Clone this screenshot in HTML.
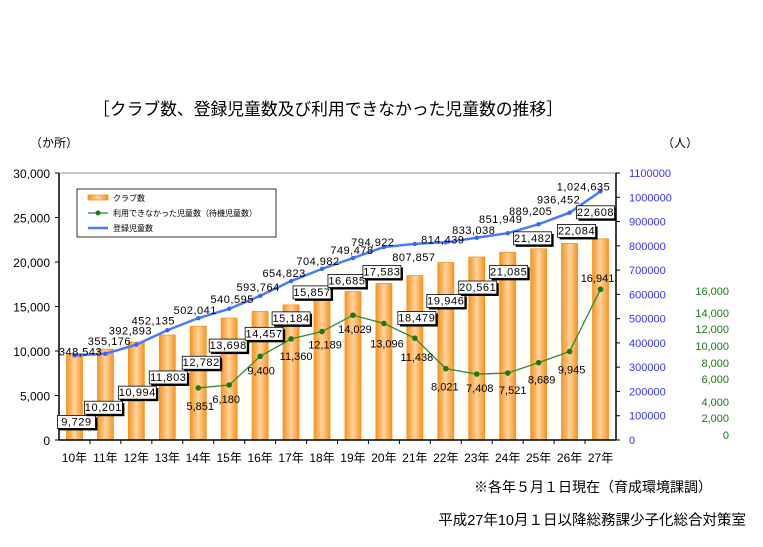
<!DOCTYPE html>
<html><head><meta charset="utf-8"><style>
body{margin:0;background:#fff;}
svg text{font-family:"Liberation Sans","Noto Sans CJK JP",sans-serif;}
</style></head><body>
<svg width="763" height="542" viewBox="0 0 763 542" xmlns="http://www.w3.org/2000/svg">
<defs>
<linearGradient id="barg" x1="0" x2="1" y1="0" y2="0">
<stop offset="0" stop-color="#f7941d"/><stop offset="0.5" stop-color="#ffd3a0"/><stop offset="1" stop-color="#f7941d"/>
</linearGradient>
</defs>
<text x="93" y="115" font-size="16.8" fill="#000">［クラブ数、登録児童数及び利用できなかった児童数の推移］</text>
<text x="30" y="147" font-size="12">（か所）</text>
<text x="662" y="147" font-size="12">（人）</text>
<g id="plot"></g>
<text x="712" y="492" font-size="14" text-anchor="end">※各年５月１日現在（育成環境課調）</text>
<text x="746" y="525" font-size="14.5" text-anchor="end">平成27年10月１日以降総務課少子化総合対策室</text>
</svg>
<script>
const categories=["10年","11年","12年","13年","14年","15年","16年","17年","18年","19年","20年","21年","22年","23年","24年","25年","26年","27年"];
const clubs=[9729,10201,10994,11803,12782,13698,14457,15184,15857,16685,17583,18479,19946,20561,21085,21482,22084,22608];
const registered=[348543,355176,392893,452135,502041,540595,593764,654823,704982,749478,794922,807857,814439,833038,851949,889205,936452,1024635];
const waiting=[null,null,null,null,5851,6180,9400,11360,12189,14029,13096,11438,8021,7408,7521,8689,9945,16941];
const leftTicks=[0,5000,10000,15000,20000,25000,30000];
const blueTicks=[0,100000,200000,300000,400000,500000,600000,700000,800000,900000,1000000,1100000];
const greenTickLabels=["16,000","14,000","12,000","10,000","8,000","6,000","4,000","2,000","0"];
// label offset styles (pixels)
const clubDx=[2,-2,1,1,3,-1,4,0,-10,-6,-2,2,0,1,1,-6,7,-5];
const clubDy=[68,58,50,42,36,27,22,13,-7,-11,-12,42,38,30,19,-11,-13,-27];
const regDx=[6,4,-6,-14,-3,3,-2,-7,-4,-1,-11,-1,-3,-3,-7,-8,-11,-17];
const regDy=[-4,-13,-14,-10,-8,-10,-9,-8,-8,-8,-5,13,-3,-8,-14,-13,-13,-5];
const waitDx=[0,0,0,0,2,-3,1,5,3,2,3,2,-1,3,5,3,2,-3];
const waitDy=[0,0,0,0,18,14,14,17,13,14,20,19,18,14,17,17,18,-11];
const greenTickY=[291,313,329,346,363,379,402,418,435];

const NS="http://www.w3.org/2000/svg";
const L=59,R=616,T=173,B=440;
const band=(R-L)/categories.length;
const x=i=>L+band*(i+0.5);
const yL=v=>B-(v/30000)*(B-T);
const yB=v=>B-(v/1100000)*(B-T);
const g=document.getElementById('plot');
function mk(tag,attrs,parent){const e=document.createElementNS(NS,tag);for(const k in attrs)e.setAttribute(k,attrs[k]);(parent||g).appendChild(e);return e;}
function txt(s,attrs){const e=mk('text',attrs);e.textContent=s;return e;}

let fr=mk('line',{x1:L,y1:T,x2:R,y2:T,stroke:'#bbb','stroke-width':1.5});


clubs.forEach((v,i)=>{
  const r=mk('rect',{x:x(i)-8,y:yL(v),width:16,height:B-yL(v),fill:'url(#barg)',stroke:'#f7941d','stroke-width':0.8});
  
  
});
let ax=mk('line',{x1:L,y1:T,x2:L,y2:B,stroke:'#000','stroke-width':1.5});


ax=mk('line',{x1:L,y1:B,x2:R,y2:B,stroke:'#000','stroke-width':1.5});


ax=mk('line',{x1:R,y1:T,x2:R,y2:B,stroke:'#000','stroke-width':1.5});


leftTicks.forEach(v=>{
  mk('line',{x1:L-4,y1:yL(v),x2:L,y2:yL(v),stroke:'#000'});
  const t=txt(v.toLocaleString('en-US'),{x:L-9,y:yL(v)+5,'font-size':12,'text-anchor':'end'});
  
  
});
blueTicks.forEach(v=>{
  mk('line',{x1:R,y1:yB(v),x2:R+4,y2:yB(v),stroke:'#000'});
  const t=txt(String(v),{x:629,y:yB(v)+4,'font-size':11,fill:'#3333ff'});
  
  
});
greenTickLabels.forEach((s,i)=>{
  const t=txt(s,{x:729,y:greenTickY[i]+4,'font-size':11,fill:'#1a7a1a','text-anchor':'end'});
  
  
});
categories.forEach((c,i)=>{
  if(i>0) mk('line',{x1:L+band*i,y1:B,x2:L+band*i,y2:B+4,stroke:'#000'});
  const t=txt(c,{x:x(i),y:462,'font-size':12,'text-anchor':'middle'});
  
  
});
const bp=registered.map((v,i)=>x(i)+','+yB(v)).join(' ');
let pl=mk('polyline',{points:bp,fill:'none',stroke:'#4a7bff','stroke-width':2.5});


registered.forEach((v,i)=>{
  const c=mk('circle',{cx:x(i),cy:yB(v),r:2.2,fill:'#3366ff'});
  
  
  const t=txt(v.toLocaleString('en-US'),{x:x(i)+regDx[i],y:yB(v)+regDy[i]+4,'font-size':11,'text-anchor':'middle','letter-spacing':'0.5'});
  
  
});
const wp=waiting.map((v,i)=>v==null?null:x(i)+','+yL(v)).filter(s=>s).join(' ');
pl=mk('polyline',{points:wp,fill:'none',stroke:'#2e8b2e','stroke-width':1.3});


waiting.forEach((v,i)=>{
  if(v==null)return;
  const c=mk('circle',{cx:x(i),cy:yL(v),r:2.8,fill:'#1a7a1a'});
  
  
  const t=txt(v.toLocaleString('en-US'),{x:x(i)+waitDx[i],y:yL(v)+waitDy[i]+4,'font-size':11,'text-anchor':'middle'});
  
  
});
clubs.forEach((v,i)=>{
  const cx=x(i)+clubDx[i],cy=yL(v)+clubDy[i];
  mk('rect',{x:cx-17,y:cy-4,width:38,height:13,fill:'#000'});
  const b=mk('rect',{x:cx-19,y:cy-6,width:38,height:13,fill:'#fff',stroke:'#000','stroke-width':0.8});
  
  
  const t=txt(v.toLocaleString('en-US'),{x:cx,y:cy+4,'font-size':11,'text-anchor':'middle','letter-spacing':'0.6'});
  
  
});
const lg=mk('g',{});


mk('rect',{x:77,y:189,width:199,height:48,fill:'#fff',stroke:'#000','stroke-width':0.8},lg);
mk('rect',{x:88,y:195,width:20,height:5,fill:'url(#barg)',stroke:'#f7941d','stroke-width':0.8},lg);
let lt=document.createElementNS(NS,'text');lt.setAttribute('x',113);lt.setAttribute('y',201);lt.setAttribute('font-size',8);lt.textContent='クラブ数';lg.appendChild(lt);


mk('line',{x1:88,y1:213,x2:108,y2:213,stroke:'#2e8b2e','stroke-width':1.3},lg);
mk('circle',{cx:98,cy:213,r:2.5,fill:'#1a7a1a'},lg);
lt=document.createElementNS(NS,'text');lt.setAttribute('x',113);lt.setAttribute('y',216);lt.setAttribute('font-size',8);lt.textContent='利用できなかった児童数（待機児童数）';lg.appendChild(lt);


mk('line',{x1:88,y1:228,x2:108,y2:228,stroke:'#4a7bff','stroke-width':2.5},lg);
lt=document.createElementNS(NS,'text');lt.setAttribute('x',113);lt.setAttribute('y',231);lt.setAttribute('font-size',8);lt.textContent='登録児童数';lg.appendChild(lt);


</script>
</body></html>
